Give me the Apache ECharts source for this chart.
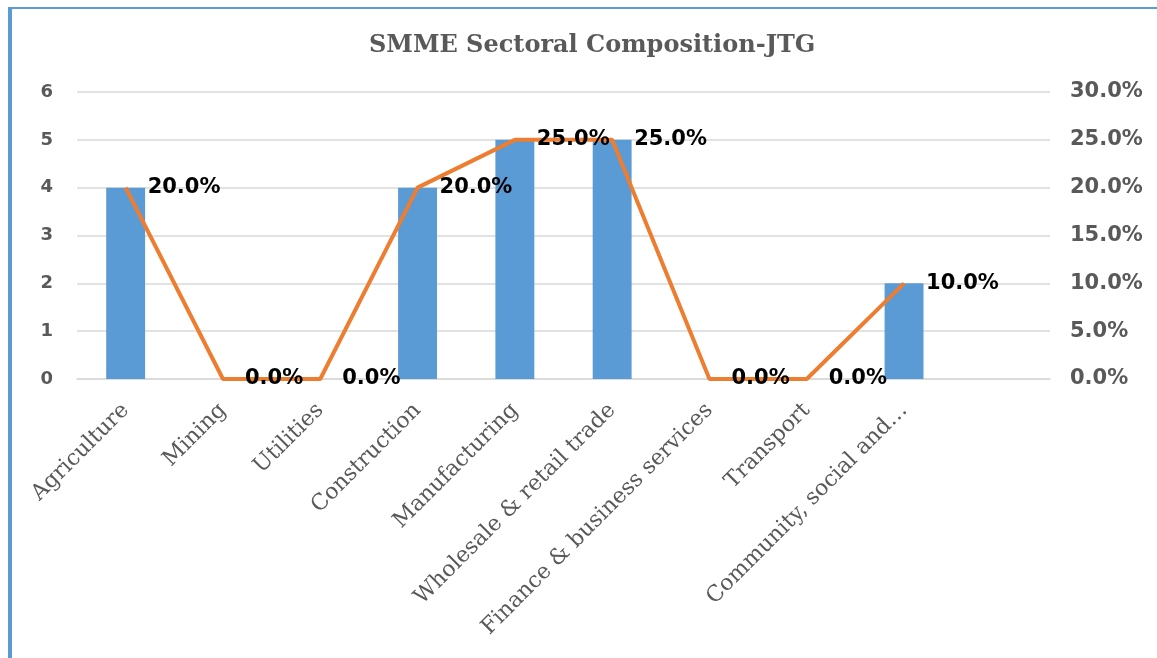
<!DOCTYPE html>
<html>
<head>
<meta charset="utf-8">
<script src="https://cdn.jsdelivr.net/npm/echarts@6/dist/echarts.min.js"></script>
<style>
  html, body { margin: 0; padding: 0; background: #fff; }
  #chart { width: 1157px; height: 658px; }
</style>
</head>
<body>
<div id="chart"></div>
<script>
// Sectors (the last slot is an empty category, as in the source workbook)
const categories = ['Agriculture', 'Mining', 'Utilities', 'Construction', 'Manufacturing',
  'Wholesale & retail trade', 'Finance & business services', 'Transport',
  'Community, social and\u2026', ''];
// Number of SMMEs per sector
const smmeCounts = [4, 0, 0, 4, 5, 5, 0, 0, 2, null];
// Share of SMMEs per sector
const smmeShare = [0.20, 0.00, 0.00, 0.20, 0.25, 0.25, 0.00, 0.00, 0.10, null];
// Axis ranges
const countTicks = { min: 0, max: 6, interval: 1 };
const shareTicks = { min: 0, max: 0.30, interval: 0.05 };

const pct = v => (v * 100).toFixed(1) + '%';
const grey = '#595959';
const sans = '"DejaVu Sans", Verdana, sans-serif';
const serif = '"DejaVu Serif", "Liberation Serif", serif';

const chart = echarts.init(document.getElementById('chart'), null, { renderer: 'canvas' });
chart.setOption({
  animation: false,
  backgroundColor: '#ffffff',
  title: {
    text: 'SMME Sectoral Composition-JTG',
    left: 364,
    top: 29,
    textStyle: { fontFamily: serif, fontWeight: 'bold', fontSize: 24, color: grey }
  },
  graphic: [
    { type: 'rect', shape: { x: 8, y: 7, width: 1149, height: 2 }, style: { fill: '#5b9bd5' } },
    { type: 'rect', shape: { x: 8, y: 7, width: 4, height: 651 }, style: { fill: '#5b9bd5' } }
  ],
  grid: { left: 77, right: 107, top: 92, bottom: 279 },
  xAxis: {
    type: 'category',
    data: categories,
    axisTick: { show: false },
    axisLine: { show: true, lineStyle: { color: '#d9d9d9', width: 1.5 } },
    axisLabel: {
      interval: 0,
      rotate: 45,
      margin: 28,
      verticalAlign: 'middle',
      fontFamily: serif,
      fontSize: 22,
      color: grey
    }
  },
  yAxis: [
    {
      type: 'value',
      min: countTicks.min, max: countTicks.max, interval: countTicks.interval,
      axisLine: { show: false }, axisTick: { show: false },
      splitLine: { lineStyle: { color: '#d9d9d9', width: 1.5 } },
      axisLabel: { margin: 24, fontFamily: sans, fontWeight: 'bold', fontSize: 18, color: grey }
    },
    {
      type: 'value',
      min: shareTicks.min, max: shareTicks.max, interval: shareTicks.interval,
      axisLine: { show: false }, axisTick: { show: false },
      splitLine: { show: false },
      axisLabel: { margin: 20, fontFamily: sans, fontWeight: 'bold', fontSize: 21, color: grey, formatter: pct }
    }
  ],
  series: [
    {
      name: 'Count',
      type: 'bar',
      data: smmeCounts,
      yAxisIndex: 0,
      barWidth: '40%',
      itemStyle: { color: '#5b9bd5' }
    },
    {
      name: 'Share',
      type: 'line',
      data: smmeShare,
      yAxisIndex: 1,
      symbol: 'circle',
      symbolSize: 0,
      showSymbol: true,
      lineStyle: { color: '#ed7d31', width: 4 },
      itemStyle: { color: '#ed7d31' },
      label: {
        show: true,
        position: 'right',
        distance: 22,
        formatter: p => pct(p.value),
        fontFamily: sans,
        fontWeight: 'bold',
        fontSize: 21,
        color: '#000000'
      },
      z: 3
    }
  ]
});
</script>
</body>
</html>
